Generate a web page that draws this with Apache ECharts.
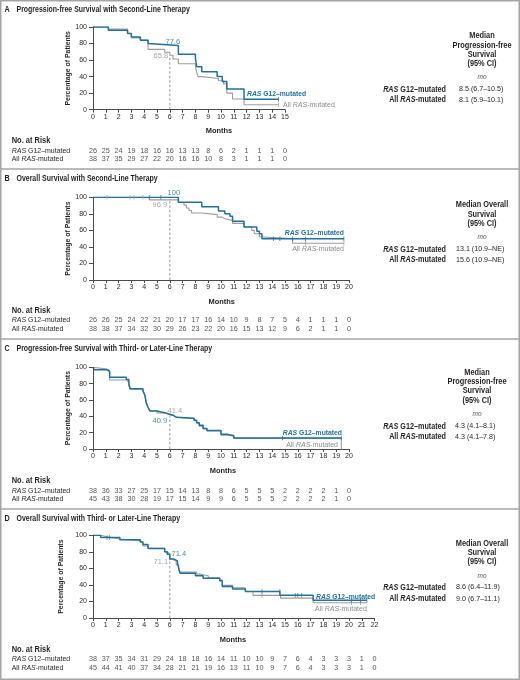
<!DOCTYPE html>
<html><head><meta charset="utf-8">
<script src="https://cdn.jsdelivr.net/npm/echarts@6/dist/echarts.min.js"></script>
<style>html,body{margin:0;padding:0;background:#fff}#c{width:520px;height:680px}</style>
</head><body><div id="c"></div>
<script>
// ---------------- DATA ----------------
// Kaplan-Meier step points [month, % of patients]
const pfs2G12 = [[0,100],[1.2,96],[2.7,92],[3.0,88],[3.7,84],[4.3,80],[4.4,77.6],[6.67,67.2],[8.0,62],[8.1,52],[8.5,46],[9.7,40],[10.1,34],[10.45,25],[11.8,12.5],[14.5,12.5]];
const pfs2All = [[0,100],[1.2,97.4],[2.7,92.1],[3.0,86.8],[3.7,84.2],[4.3,73],[5.6,69.4],[6.0,65.8],[6.25,61.3],[6.67,55.6],[8.0,52],[8.1,45],[8.2,40],[8.5,37.7],[9.8,35],[10.2,31],[10.45,20],[10.9,13],[11.8,6],[14.5,6]];
const pfs2G12Cens = [[14.5,12.5]];
const pfs2AllCens = [[14.5,6]];
const pfs2At6 = [77.6, 65.8];
const pfs2RiskG12 = [26,25,24,19,18,16,16,13,13,8,6,2,1,1,1,0];
const pfs2RiskAll = [38,37,35,29,27,22,20,16,16,10,8,3,1,1,1,0];
const pfs2Median = ['8.5 (6.7–10.5)','8.1 (5.9–10.1)'];

const os2G12 = [[0,100],[6.67,94],[8.5,88.7],[9.8,83.5],[10.3,80],[10.7,77],[10.9,71],[11.8,64],[12.8,59],[13.0,56],[13.2,50],[19.6,50]];
const os2All = [[0,100],[4.4,96.9],[6.67,93.8],[7.1,90.5],[7.3,87],[7.5,84],[7.7,81],[8.5,79],[9.7,76],[10.1,74],[10.3,72],[10.9,68.5],[11.8,64],[12.4,60],[12.6,56],[13.0,52],[13.2,50],[15.6,44.5],[19.6,44.5]];
const os2G12Cens = [[4.4,100],[5.3,100],[14.1,50],[14.6,50],[15.6,50],[16.6,50],[19.6,50]];
const os2AllCens = [[1.1,100],[2.9,100],[3.2,100],[3.9,100],[16.6,44.5],[19.6,44.5]];
const os2At6 = [100, 96.9];
const os2RiskG12 = [26,26,25,24,22,21,20,17,17,16,14,10,9,8,7,5,4,1,1,1,0];
const os2RiskAll = [38,38,37,34,32,30,29,26,23,22,20,16,15,13,12,9,6,2,1,1,0];
const os2Median = ['13.1 (10.9–NE)','15.6 (10.9–NE)'];

const pfs3G12 = [[0,100],[0.1,97],[1.1,95],[1.3,87.8],[2.6,85],[2.8,80],[2.9,73.7],[3.9,71],[4.05,66],[4.15,57],[4.3,51],[4.45,46.5],[5.0,44.5],[5.6,42.5],[6.0,40.9],[6.3,39],[6.5,37.5],[7.9,35],[8.1,32],[8.3,29],[8.6,25],[8.9,22.5],[10.0,18],[10.5,16],[11.0,13.5],[19.4,13.5]];
const pfs3All = [[0,100],[0.1,97.8],[1.1,95.5],[1.3,84.4],[2.6,82],[2.8,77],[2.9,73.3],[3.9,71],[4.05,66],[4.15,57],[4.3,51],[4.45,46.5],[5.0,44],[5.6,42],[6.0,41.4],[6.3,39],[6.5,37],[7.9,35],[8.1,32],[8.3,28],[8.6,25],[8.9,22],[10.0,17],[11.0,13],[19.4,13],[19.4,0]];
const pfs3G12Cens = [[14.8,13.5],[19.4,13.5]];
const pfs3AllCens = [];
const pfs3At6 = [40.9, 41.4];
const pfs3RiskG12 = [38,36,33,27,25,17,15,14,13,8,8,6,5,5,5,2,2,2,2,1,0];
const pfs3RiskAll = [45,43,38,30,28,19,17,15,14,9,9,6,5,5,5,2,2,2,2,1,0];
const pfs3Median = ['4.3 (4.1–8.1)','4.3 (4.1–7.8)'];

const os3G12 = [[0,100],[0.6,97.4],[2.1,94.7],[3.7,92],[3.9,89],[4.3,84],[5.6,80],[5.8,77],[6.0,71.4],[6.3,69],[6.6,66],[6.7,60],[6.8,54],[8.0,51],[8.6,48],[9.9,45],[10.1,38],[10.9,35],[11.9,32],[14.6,27.5],[17.2,21.4],[21.4,21.4]];
const os3All = [[0,100],[0.6,97.8],[1.2,95.6],[2.1,93.3],[3.7,91],[3.9,87],[4.3,84.4],[5.6,80],[5.8,77.8],[6.0,71.1],[6.2,68.9],[6.5,64.4],[6.7,58],[6.8,55.5],[8.1,53],[8.4,51],[9.0,48.5],[9.9,46],[10.1,39.5],[10.9,36.5],[11.9,32],[12.5,27.4],[14.65,24],[17.2,18.5],[21.4,18.5]];
const os3G12Cens = [[1.1,97.4],[1.3,97.4],[13.2,32],[14.6,32],[15.8,27.5],[16.0,27.5],[16.3,27.5],[20.2,21.4],[20.9,21.4],[21.4,21.4]];
const os3AllCens = [[13.2,27.4],[20.2,18.5],[20.9,18.5]];
const os3At6 = [71.4, 71.1];
const os3RiskG12 = [38,37,35,34,31,29,24,18,18,16,14,11,10,10,9,7,6,4,3,3,3,1,0];
const os3RiskAll = [45,44,41,40,37,34,28,21,21,19,16,13,11,10,9,7,6,4,3,3,3,1,0];
const os3Median = ['8.6 (6.4–11.9)','9.0 (6.7–11.1)'];

const titles = ['Progression-free Survival with Second-Line Therapy','Overall Survival with Second-Line Therapy','Progression-free Survival with Third- or Later-Line Therapy','Overall Survival with Third- or Later-Line Therapy'];
const letters = ['A','B','C','D'];
const headerPFS = ['Median','Progression-free','Survival','(95% CI)'];
const headerOS = ['Median Overall','Survival','(95% CI)'];

// ---------------- STYLE / LAYOUT ----------------
const FONT = '"Liberation Sans",Arial,sans-serif';
const C_BLUE = '#23709c', C_GREY = '#9c9c9c', C_TEXT = '#231f20', C_AXIS = '#4a4a4a';
const PXM = 12.8;

const panels = [
  {g12:pfs2G12, all:pfs2All, cG12:pfs2G12Cens, cAll:pfs2AllCens, at6:pfs2At6, rG12:pfs2RiskG12, rAll:pfs2RiskAll, med:pfs2Median, head:headerPFS,
   max:15, top:27, h:82.7, titleY:10, headY:141, r1:150.7, r2:159, monthsX:219, monthsY:131,
   hcx:482, hy:[35.7,45.3,54.3,63.3], moY:77, rowY:[89.3,100], valL:459,
   annOff:[[3,-4],[-9,1]], dash:65.8,
   endLab:[{x:247,y:94.3,a:'left'},{x:283,y:105,a:'left'}]},
  {g12:os2G12, all:os2All, cG12:os2G12Cens, cAll:os2AllCens, at6:os2At6, rG12:os2RiskG12, rAll:os2RiskAll, med:os2Median, head:headerOS,
   max:20, top:197.3, h:82.7, titleY:179, headY:311, r1:320.3, r2:329, monthsX:221.7, monthsY:301.3,
   hcx:482, hy:[205,214.3,223.7], moY:237, rowY:[249.3,260], valL:456,
   annOff:[[4,-4],[-10,5]], dash:96.9,
   endLab:[{x:344,y:233,a:'right'},{x:344,y:249,a:'right'}]},
  {g12:pfs3G12, all:pfs3All, cG12:pfs3G12Cens, cAll:pfs3AllCens, at6:pfs3At6, rG12:pfs3RiskG12, rAll:pfs3RiskAll, med:pfs3Median, head:headerPFS,
   max:20, top:367.3, h:81.7, titleY:348.3, headY:480.7, r1:490.7, r2:499, monthsX:223, monthsY:471,
   hcx:477, hy:[372.7,381.7,391,400.3], moY:414, rowY:[426.3,437], valL:455,
   annOff:[[-10,5],[5,-4]], dash:40.9,
   endLab:[{x:342,y:432.7,a:'right'},{x:338,y:445,a:'right'}]},
  {g12:os3G12, all:os3All, cG12:os3G12Cens, cAll:os3AllCens, at6:os3At6, rG12:os3RiskG12, rAll:os3RiskAll, med:os3Median, head:headerOS,
   max:22, top:535.3, h:82.7, titleY:518.3, headY:649.3, r1:658.7, r2:667.7, monthsX:233, monthsY:640,
   hcx:482, hy:[543.3,552.7,562], moY:576, rowY:[587.3,598.7], valL:456,
   annOff:[[9,-5],[-9,3]], dash:71.1,
   endLab:[{x:316,y:597,a:'left'},{x:315,y:609,a:'left'}]}
];

function txt(x, y, text, o) {
  o = o || {};
  const size = o.size || 7.5, weight = o.weight || 'normal', fill = o.fill || C_TEXT, align = o.align || 'left';
  return {type:'text', x:x, y:y, silent:true, z:100, scaleX:o.sx || 1, scaleY:1,
    style:{text:text, fill:fill, fontSize:size, fontFamily:FONT, fontWeight:weight, fontStyle:o.style || 'normal',
      align:align, verticalAlign:'middle', textAlign:align, textVerticalAlign:'middle',
      rich:{i:{fontSize:size, fontFamily:FONT, fontWeight:weight, fontStyle:'italic', fill:fill, color:fill}}}};
}

const grids = [], xAxes = [], yAxes = [], series = [], graphics = [];
const axisLine = {show:true, lineStyle:{color:C_AXIS, width:1}};
const lbl = {fontSize:7, color:C_TEXT, fontFamily:FONT};

panels.forEach(function (p, i) {
  const gi = grids.length;
  grids.push({left:93, top:p.top, width:PXM * p.max, height:p.h});
  xAxes.push({gridIndex:gi, type:'value', min:0, max:p.max, interval:1, z:10,
    axisLine:axisLine, axisTick:{show:true, length:3, lineStyle:{color:C_AXIS}},
    axisLabel:Object.assign({margin:4}, lbl), splitLine:{show:false}});
  yAxes.push({gridIndex:gi, type:'value', min:0, max:100, interval:20, z:10,
    axisLine:axisLine, axisTick:{show:true, length:4, lineStyle:{color:C_AXIS}},
    axisLabel:Object.assign({margin:6}, lbl), splitLine:{show:false},
    name:'Percentage of Patients', nameLocation:'middle', nameRotate:90, nameGap:18,
    nameTextStyle:{fontSize:6.9, fontWeight:'bold', color:C_TEXT, fontFamily:FONT}});
  const ri = grids.length;
  grids.push({left:93, top:p.r1, width:PXM * p.max, height:p.r2 - p.r1});
  xAxes.push({gridIndex:ri, type:'value', min:0, max:p.max, show:false});
  yAxes.push({gridIndex:ri, type:'value', min:0, max:1, show:false});

  const base = {xAxisIndex:gi, yAxisIndex:gi, silent:true, animation:false};
  series.push(Object.assign({type:'line', step:'end', data:p.all, symbol:'none', z:2,
    lineStyle:{width:1.1, color:C_GREY}}, base));
  series.push(Object.assign({type:'line', step:'end', data:p.g12, symbol:'none', z:3,
    lineStyle:{width:1.5, color:C_BLUE}}, base));
  // censor marks
  series.push(Object.assign({type:'scatter', data:p.cAll, symbol:'rect', symbolSize:[0.9,4.5], z:4,
    itemStyle:{color:C_GREY}}, base));
  series.push(Object.assign({type:'scatter', data:p.cG12, symbol:'rect', symbolSize:[0.9,4.5], z:4,
    itemStyle:{color:C_BLUE}}, base));
  // dashed line at 6 months
  series.push(Object.assign({type:'line', data:[[6,0],[6,p.dash]], symbol:'none', z:5,
    lineStyle:{width:0.9, color:'#8a8a8a', type:[2.5,2]}}, base));
  // 6-month values
  series.push(Object.assign({type:'scatter', symbolSize:0.01, z:6, itemStyle:{color:'rgba(0,0,0,0)'},
    data:[
      {value:[6, p.at6[0]], label:{show:true, position:'inside', offset:p.annOff[0], color:C_BLUE, fontSize:7.5, fontFamily:FONT, formatter:String(p.at6[0])}},
      {value:[6, p.at6[1]], label:{show:true, position:'inside', offset:p.annOff[1], color:'#8f8f8f', fontSize:7.5, fontFamily:FONT, formatter:String(p.at6[1])}}
    ]}, base));
  // risk table
  const rb = {type:'scatter', xAxisIndex:ri, yAxisIndex:ri, silent:true, animation:false, symbolSize:0.01,
    itemStyle:{color:'rgba(0,0,0,0)'},
    label:{show:true, position:'inside', fontSize:7.2, fontFamily:FONT, color:C_TEXT, formatter:function (q) { return q.value[2]; }}};
  series.push(Object.assign({}, rb, {data:p.rG12.map(function (v, m) { return [m, 1, v]; })}));
  series.push(Object.assign({}, rb, {data:p.rAll.map(function (v, m) { return [m, 0, v]; })}));

  // texts
  graphics.push(txt(4.5, p.titleY, letters[i], {weight:'bold', size:8.5, sx:0.85}));
  graphics.push(txt(16.5, p.titleY, titles[i], {weight:'bold', size:8.2, sx:0.85}));
  graphics.push(txt(p.monthsX, p.monthsY, 'Months', {weight:'bold', size:8, align:'center', sx:0.93}));
  graphics.push(txt(11.7, p.headY, 'No. at Risk', {weight:'bold', size:8.3, sx:0.9}));
  graphics.push(txt(11.7, p.r1, '{i|RAS} G12–mutated', {size:7.5, sx:0.93}));
  graphics.push(txt(11.7, p.r2, 'All {i|RAS}-mutated', {size:7.5, sx:0.93}));
  graphics.push(txt(p.endLab[0].x, p.endLab[0].y, '{i|RAS} G12–mutated', {weight:'bold', size:7.8, fill:C_BLUE, align:p.endLab[0].a, sx:0.87}));
  graphics.push(txt(p.endLab[1].x, p.endLab[1].y, 'All {i|RAS}-mutated', {size:7.8, fill:'#8a8a8a', align:p.endLab[1].a, sx:0.9}));
  p.head.forEach(function (s, k) { graphics.push(txt(p.hcx, p.hy[k], s, {weight:'bold', size:8.2, align:'center', sx:0.9})); });
  graphics.push(txt(p.hcx, p.moY, 'mo', {style:'italic', size:6.5, align:'center', fill:'#555'}));
  graphics.push(txt(446, p.rowY[0], '{i|RAS} G12–mutated', {weight:'bold', size:8.2, align:'right', sx:0.88}));
  graphics.push(txt(446, p.rowY[1], 'All {i|RAS}-mutated', {weight:'bold', size:8.2, align:'right', sx:0.88}));
  graphics.push(txt(p.valL, p.rowY[0], p.med[0], {size:7.5, sx:0.95}));
  graphics.push(txt(p.valL, p.rowY[1], p.med[1], {size:7.5, sx:0.95}));
});

// frame and panel dividers
graphics.push({type:'rect', silent:true, z:200, shape:{x:0.75, y:0.75, width:518.5, height:678.5}, style:{fill:'none', stroke:'#a5a5a5', lineWidth:1.5}});
[169, 339, 509].forEach(function (y) {
  graphics.push({type:'line', silent:true, z:200, shape:{x1:0, y1:y, x2:520, y2:y}, style:{stroke:'#a5a5a5', lineWidth:1.5}});
});

const chart = echarts.init(document.getElementById('c'), null, {renderer:'canvas'});
chart.setOption({animation:false, backgroundColor:'#ffffff', grid:grids, xAxis:xAxes, yAxis:yAxes, series:series, graphic:{elements:graphics}});
</script>
</body></html>
